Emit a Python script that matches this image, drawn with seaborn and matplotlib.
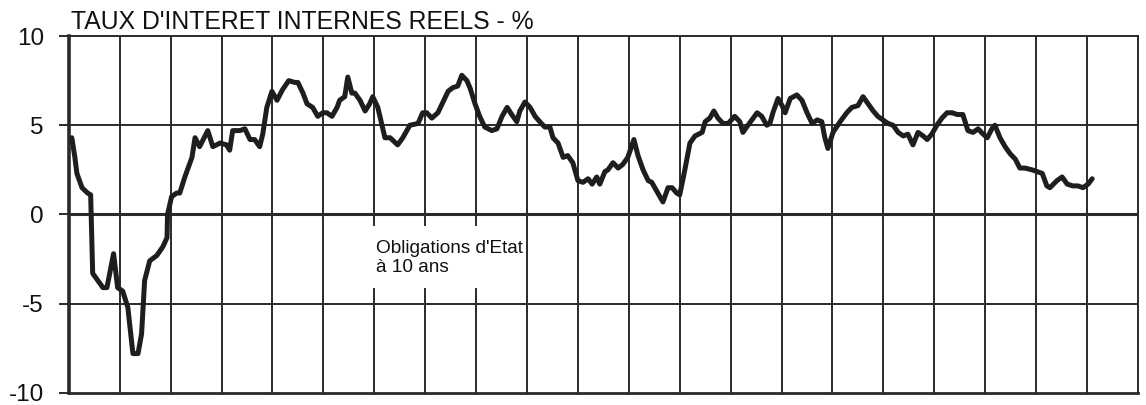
import numpy as np
import pandas as pd
import matplotlib
matplotlib.use("Agg")
import matplotlib.pyplot as plt
from matplotlib.patches import Rectangle
import seaborn as sns

# time in years from the start of the chart (one grid column = one year)
annees = [
    0.06, 0.12, 0.16, 0.26, 0.37, 0.43, 0.47, 0.57, 0.67, 0.75, 0.88, 0.96,
    1.06, 1.16, 1.26, 1.36, 1.43, 1.49, 1.59, 1.73, 1.85, 1.93, 1.94,
    2.02, 2.12, 2.18, 2.28, 2.42, 2.48, 2.57, 2.73, 2.83, 2.97,
    3.10, 3.16, 3.22, 3.36, 3.46, 3.56, 3.65, 3.75, 3.81, 3.89, 3.99,
    4.09, 4.20, 4.32, 4.44, 4.50, 4.60, 4.68, 4.79, 4.89, 4.99,
    5.07, 5.17, 5.27, 5.32, 5.42, 5.48, 5.56, 5.62, 5.72, 5.82, 5.91, 5.97,
    6.07, 6.21, 6.31, 6.46, 6.56, 6.70, 6.86, 6.95,
    7.03, 7.13, 7.25, 7.35, 7.45, 7.54, 7.64, 7.72, 7.82, 7.88, 7.98,
    8.07, 8.17, 8.31, 8.41, 8.51, 8.61, 8.70, 8.80, 8.86, 8.96,
    9.06, 9.16, 9.25, 9.35, 9.45, 9.51, 9.61, 9.71, 9.80, 9.90,
    10.00, 10.10, 10.20, 10.28, 10.37, 10.43, 10.53, 10.59, 10.69, 10.79, 10.88, 10.98,
    11.10, 11.18, 11.28, 11.38, 11.45, 11.57, 11.67, 11.77, 11.85, 11.94,
    12.00, 12.10, 12.20, 12.30, 12.44, 12.50, 12.59, 12.67, 12.75, 12.85, 12.95,
    13.08, 13.18, 13.24, 13.34, 13.52, 13.61, 13.71, 13.77, 13.83, 13.93,
    14.01, 14.07, 14.17, 14.30, 14.40, 14.50, 14.60, 14.70, 14.79, 14.85, 14.91,
    15.01, 15.15, 15.28, 15.38, 15.50, 15.60, 15.70, 15.80, 15.89, 15.99,
    16.09, 16.19, 16.29, 16.39, 16.48, 16.58, 16.68, 16.78, 16.86, 16.95,
    17.05, 17.15, 17.25, 17.35, 17.45, 17.56, 17.66, 17.76, 17.86, 17.96,
    18.04, 18.13, 18.19, 18.29, 18.39, 18.49, 18.59, 18.68, 18.78, 18.92,
    19.02, 19.12, 19.21, 19.27, 19.41, 19.51, 19.61, 19.72, 19.82, 19.92,
    20.02, 20.10,
]

# real internal interest rate, 10-year government bonds (%)
taux = [
    4.3, 3.2, 2.3, 1.5, 1.2, 1.1, -3.3, -3.7, -4.1, -4.1, -2.2, -4.1,
    -4.3, -5.2, -7.8, -7.8, -6.7, -3.7, -2.6, -2.3, -1.8, -1.3, 0.0,
    1.0, 1.2, 1.2, 2.1, 3.2, 4.3, 3.8, 4.7, 3.8, 4.0,
    3.9, 3.6, 4.7, 4.7, 4.8, 4.2, 4.2, 3.8, 4.5, 6.0, 6.9,
    6.4, 7.0, 7.5, 7.4, 7.4, 6.8, 6.2, 6.0, 5.5, 5.7,
    5.7, 5.5, 6.0, 6.4, 6.6, 7.7, 6.8, 6.8, 6.4, 5.8, 6.2, 6.6,
    6.0, 4.3, 4.3, 3.9, 4.3, 5.0, 5.1, 5.7,
    5.7, 5.4, 5.7, 6.3, 6.9, 7.1, 7.2, 7.8, 7.5, 7.1, 6.2,
    5.5, 4.9, 4.7, 4.8, 5.5, 6.0, 5.6, 5.2, 5.8, 6.3,
    6.0, 5.5, 5.2, 4.9, 4.9, 4.3, 4.0, 3.2, 3.3, 2.9,
    1.9, 1.8, 2.0, 1.7, 2.1, 1.7, 2.4, 2.5, 2.9, 2.6, 2.8, 3.2,
    4.2, 3.3, 2.5, 1.9, 1.8, 1.2, 0.7, 1.5, 1.5, 1.2,
    1.1, 2.5, 4.0, 4.4, 4.6, 5.2, 5.4, 5.8, 5.4, 5.1, 5.1,
    5.5, 5.2, 4.6, 5.0, 5.7, 5.5, 5.0, 5.1, 5.7, 6.5,
    6.1, 5.7, 6.5, 6.7, 6.4, 5.7, 5.1, 5.3, 5.2, 4.3, 3.7,
    4.6, 5.2, 5.7, 6.0, 6.1, 6.6, 6.2, 5.8, 5.5, 5.3,
    5.1, 5.0, 4.6, 4.4, 4.5, 3.9, 4.6, 4.4, 4.2, 4.5,
    5.0, 5.4, 5.7, 5.7, 5.6, 5.6, 4.7, 4.6, 4.8, 4.5,
    4.3, 4.8, 5.0, 4.3, 3.8, 3.4, 3.1, 2.6, 2.6, 2.5,
    2.4, 2.3, 1.6, 1.5, 1.9, 2.1, 1.7, 1.6, 1.6, 1.5,
    1.7, 2.0,
]

y_ticks = [-10, -5, 0, 5, 10]
n_colonnes = 21

titre = "TAUX D'INTERET INTERNES REELS - %"
note = "Obligations d'Etat\nà 10 ans"

sns.set_style("white")
plt.rcParams['font.family'] = ['Liberation Sans', 'DejaVu Sans']

df = pd.DataFrame({'annee': annees, 'taux': taux})

fig = plt.figure(figsize=(11.46, 4.05), dpi=100)
ax = fig.add_axes([0.060, 0.030, 0.933, 0.881])

# grid
for x in range(1, n_colonnes):
    ax.axvline(x, color='#2a2a2a', lw=1.4, zorder=1)
for y in y_ticks[1:-1]:
    ax.axhline(y, color='#2a2a2a', lw=2.2 if y == 0 else 1.4, zorder=1)

sns.lineplot(data=df, x='annee', y='taux', ax=ax, color='#1e1e1e',
             linewidth=3.6, zorder=3)

ax.set_xlim(0, n_colonnes)
ax.set_ylim(-10, 10)
ax.set_yticks(y_ticks)
ax.set_yticklabels([str(v) for v in y_ticks])
ax.set_xticks([])
ax.set_xlabel('')
ax.set_ylabel('')
ax.tick_params(axis='y', which='major', direction='out', length=7, width=1.4,
               color='#2a2a2a', pad=11, labelsize=17.5, labelcolor='#111111', left=True)

for side, lw in [('left', 2.6), ('bottom', 2.0), ('top', 1.4), ('right', 1.4)]:
    ax.spines[side].set_color('#2a2a2a')
    ax.spines[side].set_linewidth(lw)
    ax.spines[side].set_visible(True)

# white label box masking the grid behind the note
ax.add_patch(Rectangle((5.95, -4.12), 2.99, 3.48, facecolor='white',
                       edgecolor='none', zorder=2))
ax.text(6.03, -1.42, note, fontsize=13.7, color='#111111', ha='left', va='top',
        linespacing=1.2, zorder=4)

fig.text(0.062, 1 - 29 / 405, titre, fontsize=17.8, color='#111111',
         ha='left', va='baseline')

fig.savefig('out.png', dpi=100)
plt.close(fig)
